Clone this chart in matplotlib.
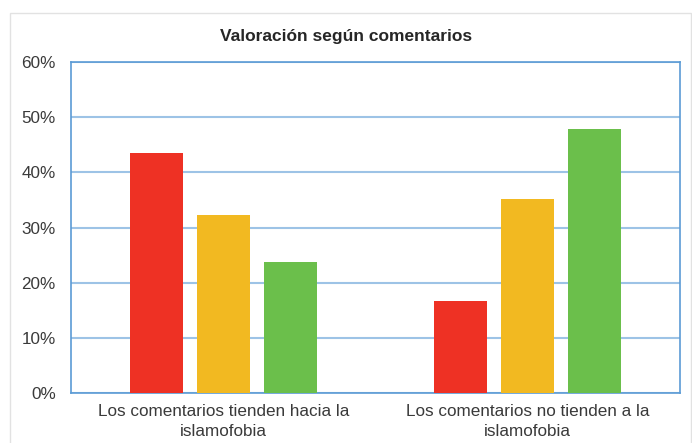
import matplotlib.pyplot as plt
import matplotlib.patches as patches
import numpy as np

plt.rcParams['font.family'] = ['Liberation Sans', 'DejaVu Sans']

# data
categories = ["Los comentarios tienden hacia la\nislamofobia",
              "Los comentarios no tienden a la\nislamofobia"]
serie_roja = [43.5, 16.7]
serie_amarilla = [32.2, 35.1]
serie_verde = [23.7, 47.8]
colores = ["#EE3124", "#F2B921", "#6BBF4B"]

fig = plt.figure(figsize=(6.92, 4.43), dpi=100)
ax = fig.add_axes([0.1026, 0.1129, 0.8801, 0.7471])

# outer chart frame
fig.patches.append(patches.Rectangle((10 / 692, -0.01), 0.999 - 10 / 692, 0.971 + 0.01,
                                     transform=fig.transFigure, fill=False,
                                     edgecolor="#E2E2E2", lw=1))

x = np.arange(len(categories))
width = 0.174
pitch = 0.22
for i, (vals, c) in enumerate(zip([serie_roja, serie_amarilla, serie_verde], colores)):
    ax.bar(x + (i - 1) * pitch, vals, width, color=c, zorder=3)

ax.set_xlim(-0.5, 1.5)
ax.set_ylim(0, 60)
ax.set_yticks(np.arange(0, 61, 10))
ax.set_yticklabels([f"{v}%" for v in range(0, 61, 10)], color="#3A3A3A", fontsize=12.3)
ax.set_xticks(x)
ax.set_xticklabels(categories, color="#3A3A3A", fontsize=12.3)
for lbl in ax.get_xticklabels():
    lbl.set_linespacing(1.4)
ax.tick_params(length=0)
ax.tick_params(axis='x', pad=8)
ax.tick_params(axis='y', pad=11)
ax.yaxis.grid(True, color="#9DC3E6", lw=1.5, zorder=0)
for s in ax.spines.values():
    s.set_color("#5B9BD5")
    s.set_linewidth(1.2)

fig.text(0.5, 0.917, "Valoración según comentarios", ha="center", va="center",
         fontsize=12.5, fontweight="bold", color="#262626")

fig.savefig("out.png", dpi=100)
